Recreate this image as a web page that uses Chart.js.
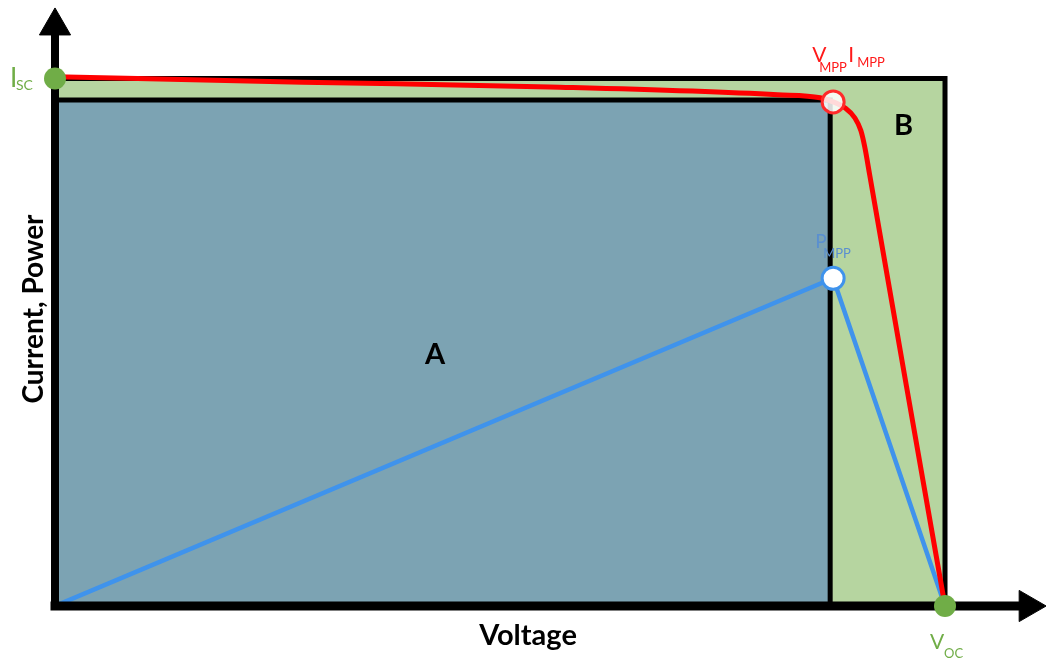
<!DOCTYPE html>
<html>
<head>
<meta charset="utf-8">
<script src="https://cdn.jsdelivr.net/npm/chart.js@4.4.0/dist/chart.umd.min.js"></script>
<style>
  html, body { margin: 0; padding: 0; background: #fff; }
  #wrap { width: 1046px; height: 659px; position: relative; }
</style>
</head>
<body>
<div id="wrap"><canvas id="myChart"></canvas></div>
<script>
// I-V curve (red)
const ivVoltage = [0, 25, 50, 73, 77.3, 78.6, 79.8, 80.8, 81.4, 81.8, 82.3, 86.0, 89.9];
const ivCurrent = [88.5, 87.6, 86.8, 85.5, 85.0, 84.3, 83.3, 81.6, 79.5, 76.7, 72.0, 36.8, 0];

// P-V curve (blue)
const pvVoltage = [0, 78.6, 89.9];
const pvPower = [0, 54.8, 0];

// key points
const isc = 88.2;
const voc = 89.9;
const vmpp = 78.3;
const impp = 84.6;
const mppPoint = [78.6, 84.3];
const pmppPoint = [78.6, 54.8];

// axis arrows end (centre of arrow head)
const axisEndX = 98.3;
const axisEndY = 97.0;

// region labels
const labelA = [38.4, 42];
const labelB = [85.7, 80.3];

const toPoints = (xs, ys) => xs.map((x, i) => ({ x: x, y: ys[i] }));

const labelPlugin = {
    id: 'labels',
    afterDraw(chart) {
        const ctx = chart.ctx;
        const sx = chart.scales.x;
        const sy = chart.scales.y;
        ctx.save();
        ctx.textBaseline = 'alphabetic';
        ctx.textAlign = 'left';

        const txt = (s, px, py, font, color) => {
            ctx.font = font;
            ctx.fillStyle = color;
            ctx.fillText(s, px, py);
        };

        // Isc
        let px = sx.getPixelForValue(0);
        let py = sy.getPixelForValue(isc);
        txt('I', px - 45, py + 8, '26px Lato', '#70ad47');
        txt('SC', px - 39, py + 11, '14px Lato', '#70ad47');

        // Voc
        px = sx.getPixelForValue(voc);
        py = sy.getPixelForValue(0);
        txt('V', px - 15, py + 43, '21px Lato', '#70ad47');
        txt('OC', px - 1, py + 52, '13px Lato', '#70ad47');

        // Vmpp Impp
        px = sx.getPixelForValue(mppPoint[0]);
        py = sy.getPixelForValue(mppPoint[1]);
        txt('V', px - 21, py - 40, '21px Lato', '#ff1a1a');
        txt('MPP', px - 14, py - 30, '13px Lato', '#ff1a1a');
        txt('I', px + 15, py - 40, '21px Lato', '#ff1a1a');
        txt('MPP', px + 24, py - 35, '13px Lato', '#ff1a1a');

        // Pmpp
        px = sx.getPixelForValue(pmppPoint[0]);
        py = sy.getPixelForValue(pmppPoint[1]);
        txt('P', px - 18, py - 30, '19px Lato', '#5a8fd0');
        txt('MPP', px - 10, py - 20, '13px Lato', '#5a8fd0');

        // A and B
        ctx.textAlign = 'center';
        ctx.textBaseline = 'middle';
        txt('A', sx.getPixelForValue(labelA[0]), sy.getPixelForValue(labelA[1]), 'bold 29px Lato', '#000');
        txt('B', sx.getPixelForValue(labelB[0]), sy.getPixelForValue(labelB[1]), 'bold 29px Lato', '#000');

        // axis titles
        ctx.textBaseline = 'alphabetic';
        txt('Voltage', 528, 645, 'bold 29px Lato', '#000');
        ctx.translate(43, 309);
        ctx.rotate(-Math.PI / 2);
        txt('Current, Power', 0, 0, 'bold 28px Lato', '#000');
        ctx.restore();
    }
};

const ctx = document.getElementById('myChart').getContext('2d');
const myChart = new Chart(ctx, {
    type: 'scatter',
    data: {
        datasets: [
            {
                // region B
                data: [{ x: 0, y: isc }, { x: voc, y: isc }, { x: voc, y: 0 }],
                showLine: true,
                borderColor: '#000',
                borderWidth: 5,
                backgroundColor: '#b6d5a0',
                fill: 'origin',
                pointRadius: 0,
                order: 10
            },
            {
                // region A
                data: [{ x: 0, y: impp }, { x: vmpp, y: impp }, { x: vmpp, y: 0 }],
                showLine: true,
                borderColor: '#000',
                borderWidth: 5,
                backgroundColor: '#7ca3b3',
                fill: 'origin',
                pointRadius: 0,
                order: 9
            },
            {
                data: toPoints(pvVoltage, pvPower),
                showLine: true,
                borderColor: '#3f93ec',
                borderWidth: 4.5,
                pointRadius: 0,
                fill: false,
                order: 6
            },
            {
                data: toPoints(ivVoltage, ivCurrent),
                showLine: true,
                borderColor: '#ff0000',
                borderWidth: 5,
                pointRadius: 0,
                fill: false,
                cubicInterpolationMode: 'monotone',
                order: 5
            },
            {
                // x axis with arrow
                data: [{ x: 0, y: 0 }, { x: axisEndX, y: 0 }],
                showLine: true,
                borderColor: '#000',
                borderWidth: 9,
                borderCapStyle: 'square',
                pointStyle: 'triangle',
                pointRadius: [0, 18],
                pointRotation: 90,
                pointBackgroundColor: '#000',
                pointBorderColor: '#000',
                pointBorderWidth: 1,
                clip: false,
                order: 4
            },
            {
                // y axis with arrow
                data: [{ x: 0, y: 0 }, { x: 0, y: axisEndY }],
                showLine: true,
                borderColor: '#000',
                borderWidth: 8,
                borderCapStyle: 'square',
                pointStyle: 'triangle',
                pointRadius: [0, 18],
                pointRotation: 0,
                pointBackgroundColor: '#000',
                pointBorderColor: '#000',
                pointBorderWidth: 1,
                clip: false,
                order: 3
            },
            {
                // MPP on the I-V curve
                data: [{ x: mppPoint[0], y: mppPoint[1] }],
                pointRadius: 11,
                pointBackgroundColor: 'rgba(255,255,255,0.85)',
                pointBorderColor: '#ff2a2a',
                pointBorderWidth: 3,
                clip: false,
                order: 2
            },
            {
                // MPP on the P-V curve
                data: [{ x: pmppPoint[0], y: pmppPoint[1] }],
                pointRadius: 11,
                pointBackgroundColor: '#ffffff',
                pointBorderColor: '#3f93ec',
                pointBorderWidth: 3,
                clip: false,
                order: 2
            },
            {
                // Isc and Voc
                data: [{ x: 0, y: isc }, { x: voc, y: 0 }],
                pointRadius: 11,
                pointBackgroundColor: '#70ad47',
                pointBorderColor: '#70ad47',
                pointBorderWidth: 0,
                clip: false,
                order: 1
            }
        ]
    },
    options: {
        responsive: true,
        maintainAspectRatio: false,
        animation: false,
        layout: { autoPadding: false, padding: { left: 55, right: 1, top: 8, bottom: 53 } },
        plugins: {
            legend: { display: false },
            tooltip: { enabled: false }
        },
        scales: {
            x: { type: 'linear', min: 0, max: 100, display: false },
            y: { type: 'linear', min: 0, max: 100, display: false }
        }
    },
    plugins: [labelPlugin]
});
</script>
</body>
</html>
